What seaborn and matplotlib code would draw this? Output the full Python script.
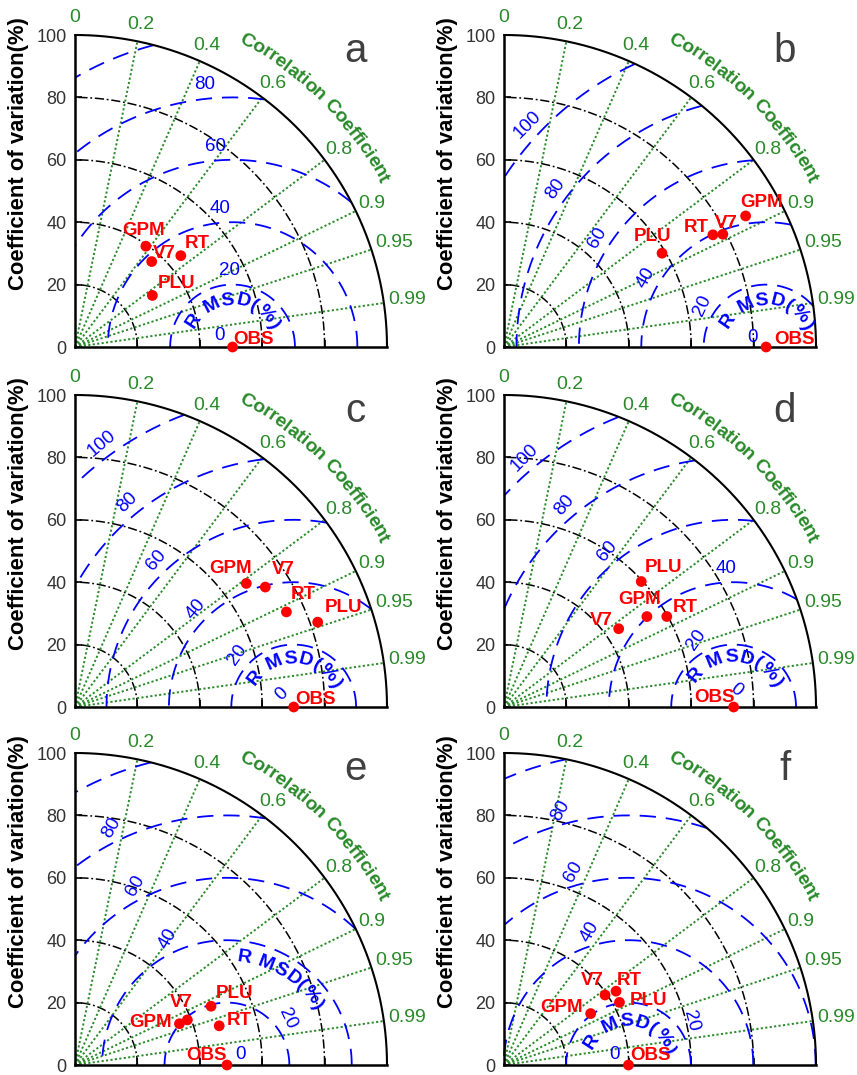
import numpy as np
import pandas as pd
import matplotlib
matplotlib.use('Agg')
import matplotlib.pyplot as plt
import seaborn as sns
from matplotlib.font_manager import FontProperties, findfont
from matplotlib.ft2font import FT2Font

# ---- data: std (coefficient of variation, %) and correlation per panel ----
panels = ['a', 'b', 'c', 'd', 'e', 'f']
products = ['GPM', 'V7', 'RT', 'PLU']
obs_std = [50.5, 84.0, 70.1, 73.6, 48.7, 39.9]

gpm_std = [39.5, 88.1, 67.7, 54.2, 36.0, 32.3]
gpm_cor = [0.575, 0.879, 0.811, 0.845, 0.930, 0.860]
v7_std = [36.8, 78.9, 72.1, 44.5, 38.8, 39.4]
v7_cor = [0.668, 0.889, 0.846, 0.826, 0.928, 0.822]
rt_std = [44.8, 76.0, 74.3, 59.7, 47.9, 43.0]
rt_cor = [0.757, 0.881, 0.912, 0.874, 0.965, 0.835]
plu_std = [29.8, 58.9, 82.4, 59.6, 47.5, 42.1]
plu_cor = [0.832, 0.860, 0.944, 0.738, 0.918, 0.879]

corr_ticks = [0, 0.2, 0.4, 0.6, 0.8, 0.9, 0.95, 0.99]
corr_labels = ['0', '0.2', '0.4', '0.6', '0.8', '0.9', '0.95', '0.99']
std_arcs = [20, 40, 60, 80]
rmsd_levels = [20, 40, 60, 80, 100]
y_ticks = [0, 20, 40, 60, 80, 100]

# ---- layout / style ----
W, H, DPI = 857, 1075, 100
S = 3.12  # pixels per unit
origins = {'a': (75, 347), 'b': (504, 347), 'c': (75, 707),
           'd': (504, 707), 'e': (75, 1065), 'f': (504, 1065)}
XL, YL = (-30, 122), (-8, 118)

GREEN = '#2a8a2a'
BLUE = '#0000ff'
RED = '#ff0000'

# label offsets (pixels, right / down) for each product label
lab_off = {
    'a': {'GPM': (-2, -16), 'V7': (13, -8), 'RT': (16, -12), 'PLU': (24, -12), 'OBS': (21, -8)},
    'b': {'GPM': (16, -13), 'V7': (3, -11), 'RT': (-17, -7), 'PLU': (-10, -17), 'OBS': (28, -8)},
    'c': {'GPM': (-16, -15), 'V7': (18, -18), 'RT': (17, -17), 'PLU': (26, -15), 'OBS': (22, -8)},
    'd': {'GPM': (-7, -17), 'V7': (-17, -8), 'RT': (18, -9), 'PLU': (22, -14), 'OBS': (-19, -9)},
    'e': {'GPM': (-29, -1), 'V7': (-6, -17), 'RT': (20, -5), 'PLU': (23, -13), 'OBS': (-20, -10)},
    'f': {'GPM': (-29, -6), 'V7': (-13, -14), 'RT': (13, -11), 'PLU': (29, -2), 'OBS': (22, -9)},
}
# rmsd contour labels: value -> (angle around OBS, text rotation)
rmsd_lab = {
    'a': {0: (138, 0), 20: (92, 0), 40: (95, 0), 60: (95, 0), 80: (96, 0)},
    'b': {0: (145, 0), 20: (147, 65), 40: (150, 60), 60: (147, 60), 80: (143, 55), 100: (137, 45)},
    'c': {0: (132, 45), 20: (137, 55), 40: (135, 50), 60: (133, 50), 80: (129, 45), 100: (126, 40)},
    'd': {0: (82, -40), 20: (119, 55), 40: (93, 0), 60: (129, 50), 80: (130, 50), 100: (130, 45)},
    'e': {0: (37, 0), 20: (37, -65), 40: (115, 60), 60: (117, 60), 80: (116, 60)},
    'f': {0: (142, 0), 20: (35, -75), 40: (106, 60), 60: (106, 60), 80: (105, 60)},
}
# "R MSD(%)" arc: baseline radius around OBS, middle angle
rmsd_title = {'a': (13.5, 90), 'b': (13.5, 89), 'c': (14, 88),
              'd': (14.5, 87), 'e': (33.5, 58), 'f': (12.5, 86)}
corr_lab_r = [105.5, 105.5, 105.5, 105.5, 105.5, 105.8, 107.6, 107.5]

sns.set_theme(style='white')
plt.rcParams['font.family'] = ['Liberation Sans', 'DejaVu Sans']

fig = plt.figure(figsize=(W / DPI, H / DPI), dpi=DPI)


def advances(text, fs, weight):
    prop = FontProperties(family='Liberation Sans', weight=weight, size=fs)
    font = FT2Font(findfont(prop))
    font.set_size(fs, 72)
    return [font.load_char(ord(ch)).linearHoriAdvance / 65536 for ch in text]


def arc_text(ax, text, cx, cy, r, mid_deg, fs, color, weight='bold', spacing=1.0):
    adv = np.array(advances(text, fs, weight)) * DPI / 72 / S * spacing
    theta = np.deg2rad(mid_deg) + adv.sum() / (2 * r)
    for ch, a in zip(text, adv):
        t = theta - a / (2 * r)
        ax.text(cx + r * np.cos(t), cy + r * np.sin(t), ch, rotation=np.rad2deg(t) - 90,
                rotation_mode='anchor', ha='center', va='baseline', fontsize=fs,
                color=color, fontweight=weight, zorder=6)
        theta -= a / r


for i, p in enumerate(panels):
    ox, oy = origins[p]
    ax = fig.add_axes([(ox + XL[0] * S) / W, (H - (oy - YL[0] * S)) / H,
                       (XL[1] - XL[0]) * S / W, (YL[1] - YL[0]) * S / H])
    ax.set_xlim(XL)
    ax.set_ylim(YL)
    ax.set_facecolor('none')
    ax.grid(False)

    # axes spines and ticks
    for side in ['top', 'right']:
        ax.spines[side].set_visible(False)
    for side in ['left', 'bottom']:
        ax.spines[side].set_position(('data', 0))
        ax.spines[side].set_bounds(0, 100)
        ax.spines[side].set_color('black')
        ax.spines[side].set_linewidth(1.8)
    ax.set_yticks(y_ticks)
    ax.set_yticklabels([str(v) for v in y_ticks])
    ax.set_xticks(std_arcs)
    ax.set_xticklabels([])
    ax.tick_params(axis='both', direction='in', length=5, width=1.2, color='black')
    ax.tick_params(axis='y', labelsize=13, labelcolor='#333333', pad=6)
    ax.tick_params(axis='x', bottom=True)
    ax.tick_params(axis='y', left=True)

    t90 = np.linspace(0, np.pi / 2, 300)
    # outer arc
    ax.plot(100 * np.cos(t90), 100 * np.sin(t90), color='black', lw=1.5, zorder=3)
    # std arcs
    for r in std_arcs:
        ax.plot(r * np.cos(t90), r * np.sin(t90), color='black', lw=1.1,
                dashes=(6, 1.8, 1.2, 1.8), zorder=2)
    # correlation rays + labels
    for c, lab, rl in zip(corr_ticks, corr_labels, corr_lab_r):
        th = np.arccos(c)
        if c > 0:
            ax.plot([0, 100 * np.cos(th)], [0, 100 * np.sin(th)], color=GREEN, lw=1.4,
                    dashes=(1.1, 1.2), zorder=2)
        ax.text(rl * np.cos(th), rl * np.sin(th), lab, color=GREEN, fontsize=14,
                ha='center', va='center')
    arc_text(ax, 'Correlation Coefficient', 0, 0, 111, 45, 14, GREEN, spacing=0.97)

    # rmsd circles around OBS
    o = obs_std[i]
    tt = np.linspace(0, np.pi, 900)
    for L in rmsd_levels:
        x = o + L * np.cos(tt)
        y = L * np.sin(tt)
        bad = (np.hypot(x, y) > 100) | (x < 0)
        x[bad] = np.nan
        y[bad] = np.nan
        ax.plot(x, y, color=BLUE, lw=1.3, dashes=(9, 5.5), zorder=2)
    for v, (ang, rot) in rmsd_lab[p].items():
        rr = 5.5 if v == 0 else v + 4.5
        a = np.deg2rad(ang)
        ax.text(o + rr * np.cos(a), rr * np.sin(a), str(v), color=BLUE, fontsize=13.5,
                rotation=rot, rotation_mode='anchor', ha='center', va='center', zorder=5)
    rr, mid = rmsd_title[p]
    arc_text(ax, 'R MSD(%)', o, 0, rr, mid, 14, BLUE, spacing=1.05)

    # points
    stds = [gpm_std[i], v7_std[i], rt_std[i], plu_std[i]]
    cors = [gpm_cor[i], v7_cor[i], rt_cor[i], plu_cor[i]]
    df = pd.DataFrame({'name': products + ['OBS'], 'std': stds + [o], 'cor': cors + [1.0]})
    df['x'] = df['std'] * df['cor']
    df['y'] = df['std'] * np.sin(np.arccos(df['cor']))
    sns.scatterplot(data=df, x='x', y='y', color=RED, s=60, edgecolor='none',
                    ax=ax, legend=False, zorder=7, clip_on=False)
    for _, row in df.iterrows():
        dx, dy = lab_off[p][row['name']]
        ax.text(row['x'] + dx / S, row['y'] - dy / S, row['name'], color=RED,
                fontsize=13.5, fontweight='bold', ha='center', va='center', zorder=8)
    ax.set_xlabel('')
    ax.set_ylabel('')

    ax.text(-18, 62, 'Coefficient of variation(%)', rotation=90, fontsize=15.8,
            fontweight='bold', ha='center', va='center', color='black')
    ax.text(90, 95, p, fontsize=29, color='#404040', ha='center', va='center')

fig.savefig('out.png', dpi=DPI)
